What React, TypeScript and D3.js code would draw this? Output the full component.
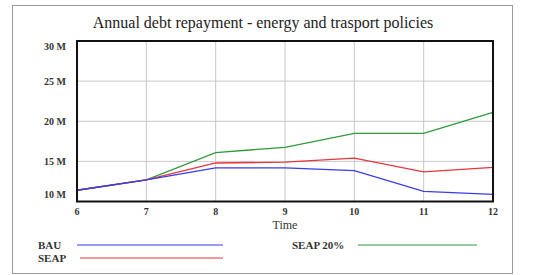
import React, { useEffect, useRef } from "react";
import * as d3 from "d3";

const years = [6, 7, 8, 9, 10, 11, 12];
const bau = [11.4, 12.7, 14.2, 14.2, 13.85, 11.25, 10.9];
const seap = [11.4, 12.7, 14.8, 14.9, 15.4, 13.7, 14.25];
const seap20 = [11.4, 12.7, 16.1, 16.75, 18.5, 18.5, 21.1];
const yTicks = [10, 15, 20, 25, 30];
const seriesNames = ["BAU", "SEAP", "SEAP 20%"];
const colors = ["#3b3bea", "#e8343c", "#2f9a3a"];

export default function App() {
  const ref = useRef<SVGSVGElement>(null);
  useEffect(() => {
    const svg = d3.select(ref.current);
    svg.selectAll("*").remove();
    const W = 535, H = 275;
    const L = 77, R = 493, T = 41, B = 201.5;
    const font = "'Liberation Serif', 'Times New Roman', serif";

    svg.append("rect").attr("x", 0).attr("y", 0).attr("width", W).attr("height", H).attr("fill", "#fff");
    svg.append("rect").attr("x", 12.5).attr("y", 5.5).attr("width", 500).attr("height", 268)
      .attr("fill", "none").attr("stroke", "#9a9a9a").attr("stroke-width", 1);

    const x = d3.scaleLinear().domain([6, 12]).range([L, R]);
    const y = d3.scaleLinear().domain([10, 30]).range([B, T]);

    svg.append("text").attr("x", 263).attr("y", 28).attr("text-anchor", "middle")
      .attr("font-family", font).attr("font-size", 16).attr("fill", "#222")
      .text("Annual debt repayment - energy and trasport policies");

    // grid
    const g = svg.append("g");
    years.forEach((v) => {
      g.append("line").attr("x1", x(v)).attr("x2", x(v)).attr("y1", T).attr("y2", B)
        .attr("stroke", "#c8c8c8").attr("stroke-width", 1);
    });
    yTicks.forEach((v) => {
      g.append("line").attr("x1", L).attr("x2", R).attr("y1", y(v)).attr("y2", y(v))
        .attr("stroke", "#c8c8c8").attr("stroke-width", 1);
    });

    // y labels
    yTicks.forEach((v) => {
      const yy = Math.max(T + 5, Math.min(B - 7, y(v)));
      svg.append("text").attr("x", 55).attr("y", yy).attr("dy", "0.35em").attr("text-anchor", "middle")
        .attr("font-family", font).attr("font-size", 10).attr("font-weight", "bold").attr("fill", "#333")
        .text(`${v} M`);
    });
    // x labels
    years.forEach((v) => {
      svg.append("text").attr("x", x(v)).attr("y", 215).attr("text-anchor", "middle")
        .attr("font-family", font).attr("font-size", 10).attr("font-weight", "bold").attr("fill", "#333")
        .text(String(v));
    });
    svg.append("text").attr("x", 285).attr("y", 229).attr("text-anchor", "middle")
      .attr("font-family", font).attr("font-size", 12).attr("fill", "#333").text("Time");

    const line = d3.line<number>().x((_, i) => x(years[i])).y((d) => y(d));
    const data = [bau, seap, seap20];
    [2, 1, 0].forEach((i) => {
      svg.append("path").attr("d", line(data[i]) as string).attr("fill", "none")
        .attr("stroke", colors[i]).attr("stroke-width", 1.3);
    });

    svg.append("rect").attr("x", L).attr("y", T).attr("width", R - L).attr("height", B - T)
      .attr("fill", "none").attr("stroke", "#111").attr("stroke-width", 2);

    // legend
    const leg = [
      { lx: 38, ly: 245, x1: 77, x2: 223 },
      { lx: 38, ly: 258, x1: 80, x2: 223 },
      { lx: 292, ly: 245, x1: 358, x2: 477 },
    ];
    leg.forEach((p, i) => {
      svg.append("text").attr("x", p.lx).attr("y", p.ly).attr("dy", "0.35em")
        .attr("font-family", font).attr("font-size", 11).attr("font-weight", "bold").attr("fill", "#333")
        .text(seriesNames[i]);
      svg.append("line").attr("x1", p.x1).attr("x2", p.x2).attr("y1", p.ly).attr("y2", p.ly)
        .attr("stroke", colors[i]).attr("stroke-width", 1.2);
    });
  }, []);
  return (
    <svg ref={ref} width={535} height={275}
      style={{ position: "absolute", left: 0, top: 0, display: "block" }} />
  );
}
